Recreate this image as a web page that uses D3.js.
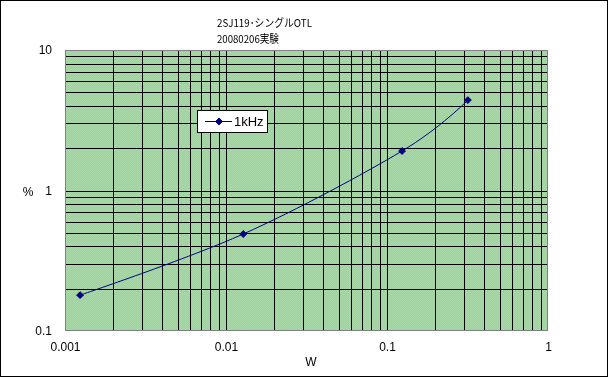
<!DOCTYPE html>
<html>
<head>
<meta charset="utf-8">
<script src="https://cdn.jsdelivr.net/npm/d3@7"></script>
<style>
body { margin: 0; background: white; }
#chart { position: relative; width: 608px; height: 377px; }
#chart canvas, #chart svg { position: absolute; left: 0; top: 0; display: block; }
</style>
</head>
<body>
<div id="chart"></div>
<script>
var titleLines = ["2SJ119･シングルOTL", "20080206実験"];
var seriesName = "1kHz";
var watts = [0.00124, 0.0128, 0.124, 0.318];      // output power, W
var distortion = [0.18, 0.49, 1.91, 4.4];          // THD, %
var xTickValues = [0.001, 0.01, 0.1, 1];
var xTickLabels = ["0.001", "0.01", "0.1", "1"];
var yTickValues = [0.1, 1, 10];
var yTickLabels = ["0.1", "1", "10"];

var width = 608,
    height = 377;

var plot = {left: 65, top: 50, right: 548, bottom: 331};

// white page with black frame, then the dithered pink / green plot fill, pixel by pixel
var canvas = d3.select("#chart").append("canvas")
    .attr("width", width)
    .attr("height", height);
var ctx = canvas.node().getContext("2d");
ctx.fillStyle = "white";
ctx.fillRect(0, 0, width, height);
var pink = [220, 168, 220],
    green = [168, 216, 168];
var pw = plot.right - plot.left,
    ph = plot.bottom - plot.top;
var img = ctx.createImageData(pw, ph);
for (var j = 0; j < ph; j++) {
    for (var i = 0; i < pw; i++) {
        var c = ((i + j) % 2 == 0) ? pink : green;
        var k = (j * pw + i) * 4;
        img.data[k] = c[0];
        img.data[k + 1] = c[1];
        img.data[k + 2] = c[2];
        img.data[k + 3] = 255;
    }
}
ctx.putImageData(img, plot.left, plot.top);

var svg = d3.select("#chart").append("svg")
    .attr("width", width)
    .attr("height", height)
    .style("font-family", "'Liberation Sans', Arial, sans-serif");

svg.append("rect")
    .attr("x", 0.5).attr("y", 0.5)
    .attr("width", width - 1).attr("height", height - 1)
    .attr("fill", "none")
    .attr("stroke", "black");

var x = d3.scaleLog()
    .domain([0.001, 1])
    .range([plot.left, plot.right]);

var y = d3.scaleLog()
    .domain([0.1, 10])
    .range([plot.bottom, plot.top]);

// grid lines: every 1..9 in each decade
var xGrid = x.ticks().filter(function(d) { return d > 0.001 && d < 1; });
var yGrid = y.ticks().filter(function(d) { return d > 0.1 && d < 10; });

function px(v) { return Math.round(v) + 0.5; }

svg.append("g").selectAll("line")
    .data(xGrid)
    .enter().append("line")
    .attr("x1", function(d) { return px(x(d)); })
    .attr("x2", function(d) { return px(x(d)); })
    .attr("y1", plot.top)
    .attr("y2", plot.bottom)
    .attr("stroke", "black")
    .attr("shape-rendering", "crispEdges");

svg.append("g").selectAll("line")
    .data(yGrid)
    .enter().append("line")
    .attr("y1", function(d) { return px(y(d)); })
    .attr("y2", function(d) { return px(y(d)); })
    .attr("x1", plot.left)
    .attr("x2", plot.right)
    .attr("stroke", "black")
    .attr("shape-rendering", "crispEdges");

svg.append("rect")
    .attr("x", plot.left + 0.5).attr("y", plot.top + 0.5)
    .attr("width", plot.right - plot.left - 1)
    .attr("height", plot.bottom - plot.top - 1)
    .attr("fill", "none")
    .attr("stroke", "#808080")
    .attr("shape-rendering", "crispEdges");

// axes (labels only, no tick marks)
var xAxis = d3.axisBottom(x)
    .tickValues(xTickValues)
    .tickFormat(function(d, i) { return xTickLabels[i]; })
    .tickSize(0)
    .tickPadding(11);

var gx = svg.append("g")
    .attr("transform", "translate(0," + plot.bottom + ")")
    .call(xAxis);
gx.select(".domain").remove();
gx.selectAll("text").attr("font-size", 12).attr("font-family", null).attr("fill", "black");

var yAxis = d3.axisLeft(y)
    .tickValues(yTickValues)
    .tickFormat(function(d, i) { return yTickLabels[i]; })
    .tickSize(0)
    .tickPadding(13);

var gy = svg.append("g")
    .attr("transform", "translate(" + plot.left + ",0)")
    .call(yAxis);
gy.select(".domain").remove();
gy.selectAll("text").attr("font-size", 12).attr("font-family", null).attr("fill", "black");

svg.append("text")
    .attr("x", 311).attr("y", 366)
    .attr("text-anchor", "middle")
    .attr("font-size", 12)
    .text("W");

svg.append("text")
    .attr("x", 28).attr("y", 196)
    .attr("text-anchor", "middle")
    .attr("font-size", 12)
    .text("%");

// title
svg.append("g").selectAll("text")
    .data(titleLines)
    .enter().append("text")
    .attr("x", 217)
    .attr("y", function(d, i) { return 27 + i * 16; })
    .attr("font-size", 11)
    .attr("font-family", "'Noto Sans CJK JP', sans-serif")
    .attr("textLength", function(d, i) { return i == 0 ? 95 : 62; })
    .attr("lengthAdjust", "spacingAndGlyphs")
    .text(function(d) { return d; });

// series
var points = watts.map(function(w, i) { return {w: w, d: distortion[i]}; });

var line = d3.line()
    .x(function(d) { return x(d.w); })
    .y(function(d) { return y(d.d); })
    .curve(d3.curveCatmullRom.alpha(0));

svg.append("path")
    .datum(points)
    .attr("d", line)
    .attr("fill", "none")
    .attr("stroke", "#000080")
    .attr("stroke-width", 1);

var diamond = d3.symbol().type(d3.symbolDiamond2).size(30);

svg.append("g").selectAll("path")
    .data(points)
    .enter().append("path")
    .attr("d", diamond)
    .attr("transform", function(d) { return "translate(" + x(d.w) + "," + y(d.d) + ")"; })
    .attr("fill", "#000080")
    .attr("stroke", "#000080");

// legend
var lg = svg.append("g").attr("transform", "translate(197,110)");
lg.append("rect")
    .attr("x", 0.5).attr("y", 0.5)
    .attr("width", 70).attr("height", 22)
    .attr("fill", "white")
    .attr("stroke", "black");
lg.append("line")
    .attr("x1", 8).attr("x2", 35)
    .attr("y1", 11.5).attr("y2", 11.5)
    .attr("stroke", "#000080");
lg.append("path")
    .attr("d", diamond)
    .attr("transform", "translate(22,11.5)")
    .attr("fill", "#000080")
    .attr("stroke", "#000080");
lg.append("text")
    .attr("x", 37).attr("y", 16)
    .attr("font-size", 13)
    .text(seriesName);
</script>
</body>
</html>
